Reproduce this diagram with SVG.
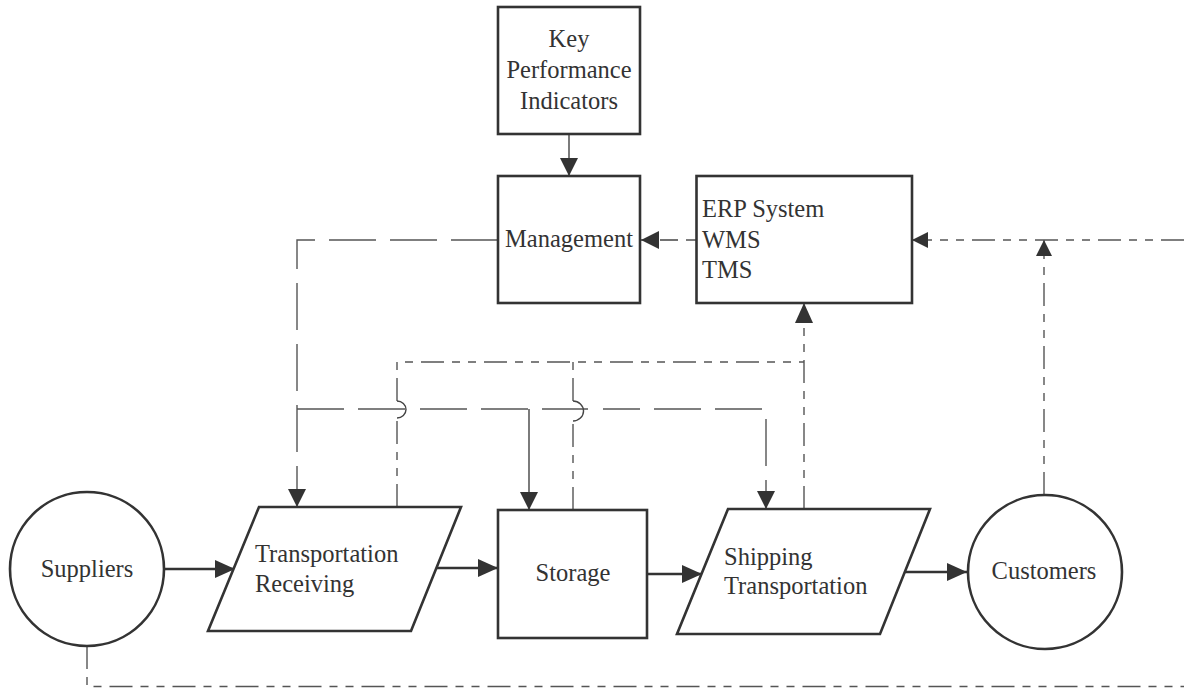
<svg xmlns="http://www.w3.org/2000/svg" width="1184" height="688" viewBox="0 0 1184 688">
  <style>
    .shape { fill: #ffffff; stroke: #333333; stroke-width: 2.6; }
    .label { font-family: "Liberation Serif", "Times New Roman", serif; font-size: 24.5px; fill: #333333; }
    .mid { text-anchor: middle; }
    .flow { fill: none; stroke: #333333; stroke-width: 2.6; }
    .solid { fill: none; stroke: #444444; stroke-width: 1.4; }
    .ctrl { fill: none; stroke: #555555; stroke-width: 1.4; stroke-dasharray: 47 14; }
    .info { fill: none; stroke: #555555; stroke-width: 1.4; stroke-dasharray: 23 8 8 8 8 8; }
    .jump { fill: none; stroke: #444444; stroke-width: 1.4; }
  </style>
  <defs>
    <marker id="arrow" viewBox="0 0 20 18" refX="20" refY="9" markerWidth="20" markerHeight="18" orient="auto" markerUnits="userSpaceOnUse">
      <path d="M0,0 L20,9 L0,18 z" fill="#333333"/>
    </marker>
    <marker id="arrow-m" viewBox="0 0 18 18" refX="18" refY="9" markerWidth="18" markerHeight="18" orient="auto" markerUnits="userSpaceOnUse">
      <path d="M0,0 L18,9 L0,18 z" fill="#333333"/>
    </marker>
    <marker id="arrow-s" viewBox="0 0 16 16" refX="16" refY="8" markerWidth="16" markerHeight="16" orient="auto" markerUnits="userSpaceOnUse">
      <path d="M0,0 L16,8 L0,16 z" fill="#333333"/>
    </marker>
  </defs>

  <!-- connectors -->
  <g id="connectors">
    <!-- main material flow -->
    <path class="flow" d="M164,569 H235" marker-end="url(#arrow)"/>
    <path class="flow" d="M436,568 H498" marker-end="url(#arrow)"/>
    <path class="flow" d="M647,574 H702" marker-end="url(#arrow)"/>
    <path class="flow" d="M905,572 H967" marker-end="url(#arrow)"/>

    <!-- KPI to management -->
    <path class="solid" d="M569,134 V176" marker-end="url(#arrow-m)"/>

    <!-- ERP to management -->
    <path class="solid" d="M696,240 H686" />
    <path class="solid" d="M678,240 H641" stroke-dasharray="18 10" marker-end="url(#arrow-m)"/>

    <!-- management control to operations -->
    <path class="ctrl" d="M498,240 H297 V507" marker-end="url(#arrow-m)"/>
    <path class="ctrl" d="M297,409 H405"/>
    <path class="ctrl" d="M420,409 H588"/>
    <path class="ctrl" d="M603,409 H766 V509" stroke-dashoffset="10" marker-end="url(#arrow-m)"/>
    <path class="solid" d="M529,409 V510" marker-end="url(#arrow-m)"/>

    <!-- operations data to ERP -->
    <path class="info" d="M397,507 V418"/>
    <path class="info" d="M397,401 V362 H804"/>
    <path class="info" d="M573,510 V421"/>
    <path class="info" d="M573,401 V362"/>
    <path class="info" d="M804,509 V303" marker-end="url(#arrow)"/>
    <path class="jump" d="M397,418 A9,8.5 0 0 0 397,401"/>
    <path class="jump" d="M573,421 A10,9.5 0 0 0 573,401"/>

    <!-- customer and external data to ERP -->
    <path class="info" d="M1044,495 V240" marker-end="url(#arrow-s)"/>
    <path class="info" d="M1184,240 H912" marker-end="url(#arrow-s)"/>
    <path class="info" d="M87,646 V686.5 H1184"/>
  </g>

  <!-- nodes -->
  <g id="kpi">
    <rect class="shape" x="498" y="7" width="142" height="127"/>
    <text class="label mid" x="569" y="47">Key</text>
    <text class="label mid" x="569" y="78">Performance</text>
    <text class="label mid" x="569" y="108.5">Indicators</text>
  </g>

  <g id="management">
    <rect class="shape" x="498" y="176" width="142" height="127"/>
    <text class="label mid" x="569" y="247">Management</text>
  </g>

  <g id="erp">
    <rect class="shape" x="696.5" y="176" width="215.5" height="127"/>
    <text class="label" x="702" y="217">ERP System</text>
    <text class="label" x="702" y="247.5">WMS</text>
    <text class="label" x="702" y="278">TMS</text>
  </g>

  <g id="suppliers">
    <circle class="shape" cx="87" cy="569" r="77"/>
    <text class="label mid" x="87" y="577">Suppliers</text>
  </g>

  <g id="transportation-receiving">
    <polygon class="shape" points="259,507 461,507 411,631 208,631"/>
    <text class="label" x="255" y="562">Transportation</text>
    <text class="label" x="255" y="592">Receiving</text>
  </g>

  <g id="storage">
    <rect class="shape" x="498" y="510" width="149" height="128"/>
    <text class="label mid" x="573" y="581">Storage</text>
  </g>

  <g id="shipping-transportation">
    <polygon class="shape" points="728,509 930,509 880,634 677,634"/>
    <text class="label" x="724" y="565">Shipping</text>
    <text class="label" x="724" y="594">Transportation</text>
  </g>

  <g id="customers">
    <circle class="shape" cx="1045" cy="572" r="77"/>
    <text class="label mid" x="1044" y="579">Customers</text>
  </g>
</svg>
